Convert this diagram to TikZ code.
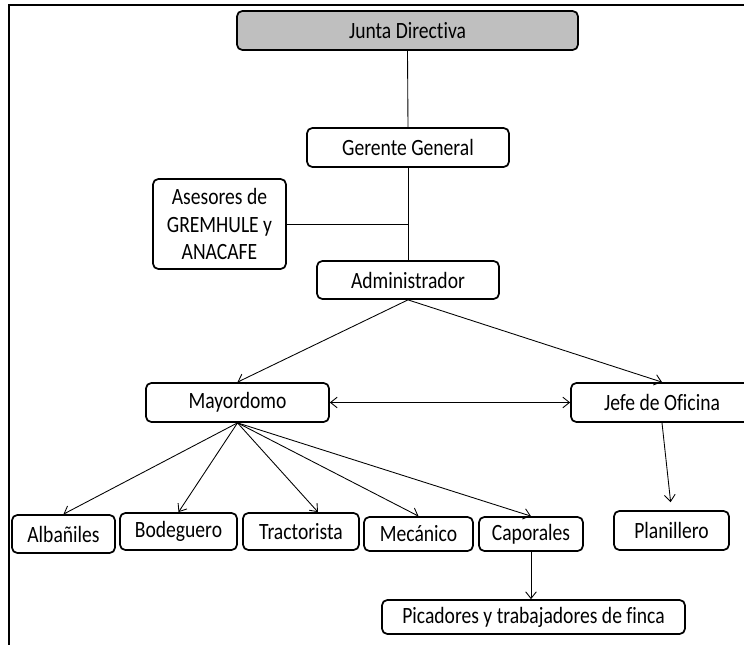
\documentclass[tikz,border=0pt]{standalone}
\usepackage{fontspec}
\setmainfont{Carlito}[FakeStretch=0.84, Ligatures=NoCommon]
\usetikzlibrary{arrows.meta,positioning,calc}

\begin{document}
\begin{tikzpicture}[x=0.75pt, y=-0.75pt,
        every node/.style={font=\fontsize{17.5}{20.5}\selectfont},
        cargo/.style={draw, line width=1.3pt, rounded corners=4pt, inner sep=0pt, align=center},
        link/.style={line width=0.65pt},
        >={Straight Barb[length=5pt,width=8pt]}]
        \useasboundingbox (0,0) rectangle (744,645);
        \clip (0,0) rectangle (744,645);
        % marco
        \draw[line width=2.2pt] (9,650) -- (9,5) -- (750,5);
        % cargos
        \node[cargo, fill=gray!50, minimum width=255.75pt, minimum height=29.25pt] (junta) at (407.5,30.5) {Junta Directiva};
        \node[cargo, minimum width=151.5pt, minimum height=29.25pt] (gerente) at (408,147.5) {Gerente General};
        \node[cargo, minimum width=99.75pt, minimum height=67.5pt] (asesores) at (219.5,224) {Asesores de\\GREMHULE y\\ANACAFE};
        \node[cargo, minimum width=136.5pt, minimum height=28.5pt] (admin) at (408,280) {Administrador};
        \node[cargo, minimum width=137.25pt, minimum height=29.25pt] (mayordomo) at (237.5,402.5) {Mayordomo};
        \node[cargo, minimum width=136.5pt, minimum height=29.25pt] (jefe) at (662,402.5) {Jefe de Oficina};
        \node[cargo, minimum width=77.25pt, minimum height=28.5pt] (albaniles) at (63.5,534) {Albañiles};
        \node[cargo, minimum width=87.75pt, minimum height=27.75pt] (bodeguero) at (178.5,531.5) {Bodeguero};
        \node[cargo, minimum width=87pt, minimum height=27.75pt] (tractorista) at (301,531.5) {Tractorista};
        \node[cargo, minimum width=81.75pt, minimum height=25.5pt] (mecanico) at (418.5,534) {Mecánico};
        \node[cargo, minimum width=78pt, minimum height=25.5pt] (caporales) at (531,534) {Caporales};
        \node[cargo, minimum width=86.25pt, minimum height=29.25pt] (planillero) at (671.5,530.5) {Planillero};
        \node[cargo, minimum width=227.25pt, minimum height=25.5pt] (picadores) at (533.5,617) {Picadores y trabajadores de finca};
        % lineas
        \draw[link] (junta.south) -- (gerente.north);
        \draw[link] (gerente.south) -- (admin.north);
        \draw[link] (asesores.east) -- (asesores.east -| gerente.south);
        \draw[link, ->] (admin.south) -- (mayordomo.north);
        \draw[link, ->] (admin.south) -- (jefe.north);
        \draw[link, <->] (mayordomo.east) -- (jefe.west);
        \draw[link, ->] (mayordomo.south) -- (albaniles.north);
        \draw[link, ->] (mayordomo.south) -- (bodeguero.north);
        \draw[link, ->] (mayordomo.south) -- ($(tractorista.north)+(17,0)$);
        \draw[link, ->] (mayordomo.south) -- (mecanico.north);
        \draw[link, ->] (mayordomo.south) -- (caporales.north);
        \draw[link, ->, shorten >=6pt] (jefe.south) -- (planillero.north);
        \draw[link, ->] (caporales.south) -- (caporales.south |- picadores.north);
    \end{tikzpicture}
\end{document}
